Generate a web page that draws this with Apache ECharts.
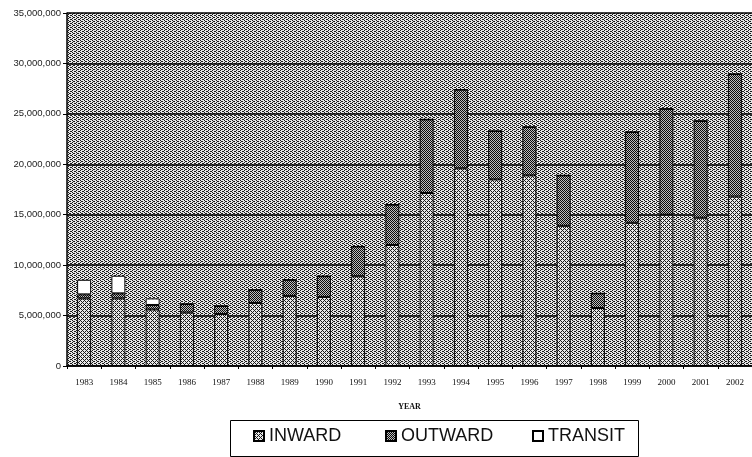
<!DOCTYPE html>
<html><head><meta charset="utf-8">
<script src="https://cdn.jsdelivr.net/npm/echarts@6/dist/echarts.min.js"></script>
<style>html,body{margin:0;padding:0;background:#fff}#c{width:752px;height:457px}</style>
</head><body><div id="c"></div>
<script>
const years = ['1983','1984','1985','1986','1987','1988','1989','1990','1991','1992','1993','1994','1995','1996','1997','1998','1999','2000','2001','2002'];
const inward  = [6700000,6700000,5600000,5300000,5150000,6250000,6950000,6850000,8900000,12000000,17150000,19600000,18500000,18900000,13900000,5750000,14200000,15000000,14700000,16800000];
const outward = [400000,500000,450000,850000,800000,1300000,1600000,2050000,2950000,4000000,7300000,7800000,4800000,4800000,5000000,1450000,9000000,10500000,9600000,12150000];
const transit = [1450000,1750000,650000,0,0,0,0,0,0,0,0,0,0,0,0,0,0,0,0,0];
const yTicks = [0,5000000,10000000,15000000,20000000,25000000,30000000,35000000];

function makePattern(size, bg, fg, pts){
  const c = document.createElement('canvas');
  c.width = size; c.height = size;
  const g = c.getContext('2d');
  g.fillStyle = bg; g.fillRect(0,0,size,size);
  g.fillStyle = fg;
  pts.forEach(p => g.fillRect(p[0],p[1],1,1));
  return {image: c, repeat: 'repeat'};
}
const lightPat = makePattern(4, '#e8e8e8', '#1a1a1a', [[0,0],[3,1],[2,2],[1,3],[1,1],[3,3]]);
const bgPat = makePattern(4, '#e6e6e6', '#1a1a1a', [[0,0],[2,1],[0,2],[2,3],[1,1],[3,3]]);
const darkPat = makePattern(4, '#bdbdbd', '#0a0a0a', [[0,0],[2,0],[1,1],[3,1],[0,2],[2,2],[1,3],[3,3]]);

const chart = echarts.init(document.getElementById('c'), null, {renderer:'canvas'});
const fmt = v => v === 0 ? '0' : v.toLocaleString('en-US');
const legendText = {fontFamily:'Liberation Sans', fontSize:18, color:'#111'};
const lg = (name, left) => ({data:[name], left: left, top: 427, padding: 0, icon: 'rect', itemWidth: 10, itemHeight: 10, itemGap: 0, textStyle: legendText});
chart.setOption({
  animation: false,
  backgroundColor: '#fff',
  grid: {left: 67, right: -3, top: 13, bottom: 91, show: true, backgroundColor: bgPat, borderWidth: 0},
  xAxis: {
    type: 'category', data: years,
    name: 'YEAR', nameLocation: 'middle', nameGap: 37,
    nameTextStyle: {fontFamily:'Liberation Serif', fontSize:8, fontWeight:'bold', color:'#111'},
    axisLine: {lineStyle: {color:'#000', width:1.5}},
    axisTick: {show: true, length: 3, lineStyle:{color:'#000'}},
    axisLabel: {fontFamily:'Liberation Serif', fontSize:9, color:'#111', margin: 12},
    splitLine: {show:false}
  },
  yAxis: {
    type: 'value', min: yTicks[0], max: yTicks[yTicks.length-1], interval: 5000000,
    axisLine: {show: true, lineStyle: {color:'#000', width:1.5}},
    axisTick: {show: true, length: 4, lineStyle:{color:'#000'}},
    axisLabel: {fontFamily:'Liberation Sans', fontSize:9.5, color:'#222', margin: 6, formatter: fmt},
    splitLine: {show: true, lineStyle: {color:'#000', width:1.5}}
  },
  legend: [lg('INWARD', 253), lg('OUTWARD', 385), lg('TRANSIT', 532)],
  graphic: [{type:'rect', left: 228, top: 418, shape:{width: 408, height: 36}, style:{fill:'none', stroke:'#000', lineWidth:1}}],
  series: [
    {name:'INWARD', type:'bar', stack:'a', data: inward, barWidth: 14,
     itemStyle:{color: lightPat, borderColor:'#000', borderWidth:1}},
    {name:'OUTWARD', type:'bar', stack:'a', data: outward, barWidth: 14,
     itemStyle:{color: darkPat, borderColor:'#000', borderWidth:1}},
    {name:'TRANSIT', type:'bar', stack:'a', data: transit, barWidth: 14,
     itemStyle:{color: '#fff', borderColor:'#000', borderWidth:1}}
  ]
});
</script></body></html>
